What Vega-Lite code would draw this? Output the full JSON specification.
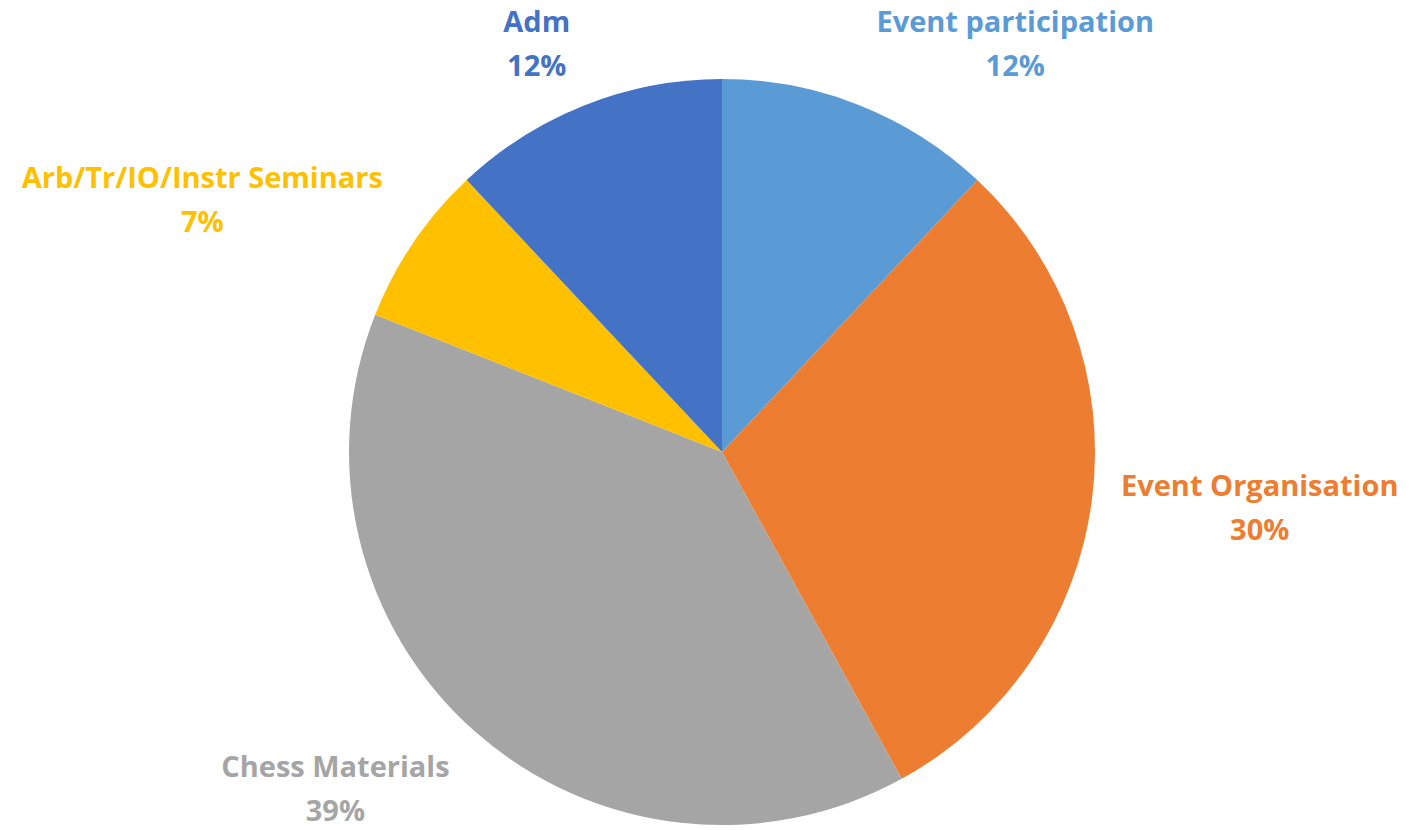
{
  "$schema": "https://vega.github.io/schema/vega-lite/v6.json",
  "width": 1376,
  "height": 756,
  "autosize": {"type": "none"},
  "padding": {"left": 34, "top": 74, "right": 0, "bottom": 0},
  "background": "white",
  "config": {"view": {"stroke": null}},
  "data": {
    "values": [
      {"idx": 1, "category": "Event participation", "value": 12},
      {"idx": 2, "category": "Event Organisation", "value": 30},
      {"idx": 3, "category": "Chess Materials", "value": 39},
      {"idx": 4, "category": "Arb/Tr/IO/Instr Seminars", "value": 7},
      {"idx": 5, "category": "Adm", "value": 12}
    ]
  },
  "transform": [
    {"calculate": "datum.category + '\\n' + datum.value + '%'", "as": "label"}
  ],
  "encoding": {
    "theta": {"field": "value", "type": "quantitative", "stack": true},
    "order": {"field": "idx", "type": "quantitative", "sort": "ascending"},
    "color": {
      "field": "category",
      "type": "nominal",
      "legend": null,
      "scale": {
        "domain": ["Event participation", "Event Organisation", "Chess Materials", "Arb/Tr/IO/Instr Seminars", "Adm"],
        "range": ["#5B9BD5", "#ED7D31", "#A5A5A5", "#FFC000", "#4472C4"]
      }
    }
  },
  "layer": [
    {"mark": {"type": "arc", "outerRadius": 373}},
    {
      "mark": {"type": "text", "font": "Open Sans", "fontWeight": "bold", "fontSize": 29, "lineBreak": "\n", "lineHeight": 44, "align": "center", "baseline": "middle", "dx": 132, "dy": -22},
      "encoding": {
        "radius": {"value": 438},
        "text": {"condition": {"test": "datum.category === 'Event participation'", "field": "label"}, "value": ""}
      }
    },
    {
      "mark": {"type": "text", "font": "Open Sans", "fontWeight": "bold", "fontSize": 29, "lineBreak": "\n", "lineHeight": 44, "align": "center", "baseline": "middle", "dx": 2, "dy": -33},
      "encoding": {
        "radius": {"value": 540},
        "text": {"condition": {"test": "datum.category === 'Event Organisation'", "field": "label"}, "value": ""}
      }
    },
    {
      "mark": {"type": "text", "font": "Open Sans", "fontWeight": "bold", "fontSize": 29, "lineBreak": "\n", "lineHeight": 44, "align": "center", "baseline": "middle", "dx": -89, "dy": -22},
      "encoding": {
        "radius": {"value": 450},
        "text": {"condition": {"test": "datum.category === 'Chess Materials'", "field": "label"}, "value": ""}
      }
    },
    {
      "mark": {"type": "text", "font": "Open Sans", "fontWeight": "bold", "fontSize": 29, "lineBreak": "\n", "lineHeight": 44, "align": "center", "baseline": "middle", "dx": -150, "dy": -22},
      "encoding": {
        "radius": {"value": 447},
        "text": {"condition": {"test": "datum.category === 'Arb/Tr/IO/Instr Seminars'", "field": "label"}, "value": ""}
      }
    },
    {
      "mark": {"type": "text", "font": "Open Sans", "fontWeight": "bold", "fontSize": 29, "lineBreak": "\n", "lineHeight": 44, "align": "center", "baseline": "middle", "dx": -24, "dy": -22},
      "encoding": {
        "radius": {"value": 438},
        "text": {"condition": {"test": "datum.category === 'Adm'", "field": "label"}, "value": ""}
      }
    }
  ]
}
